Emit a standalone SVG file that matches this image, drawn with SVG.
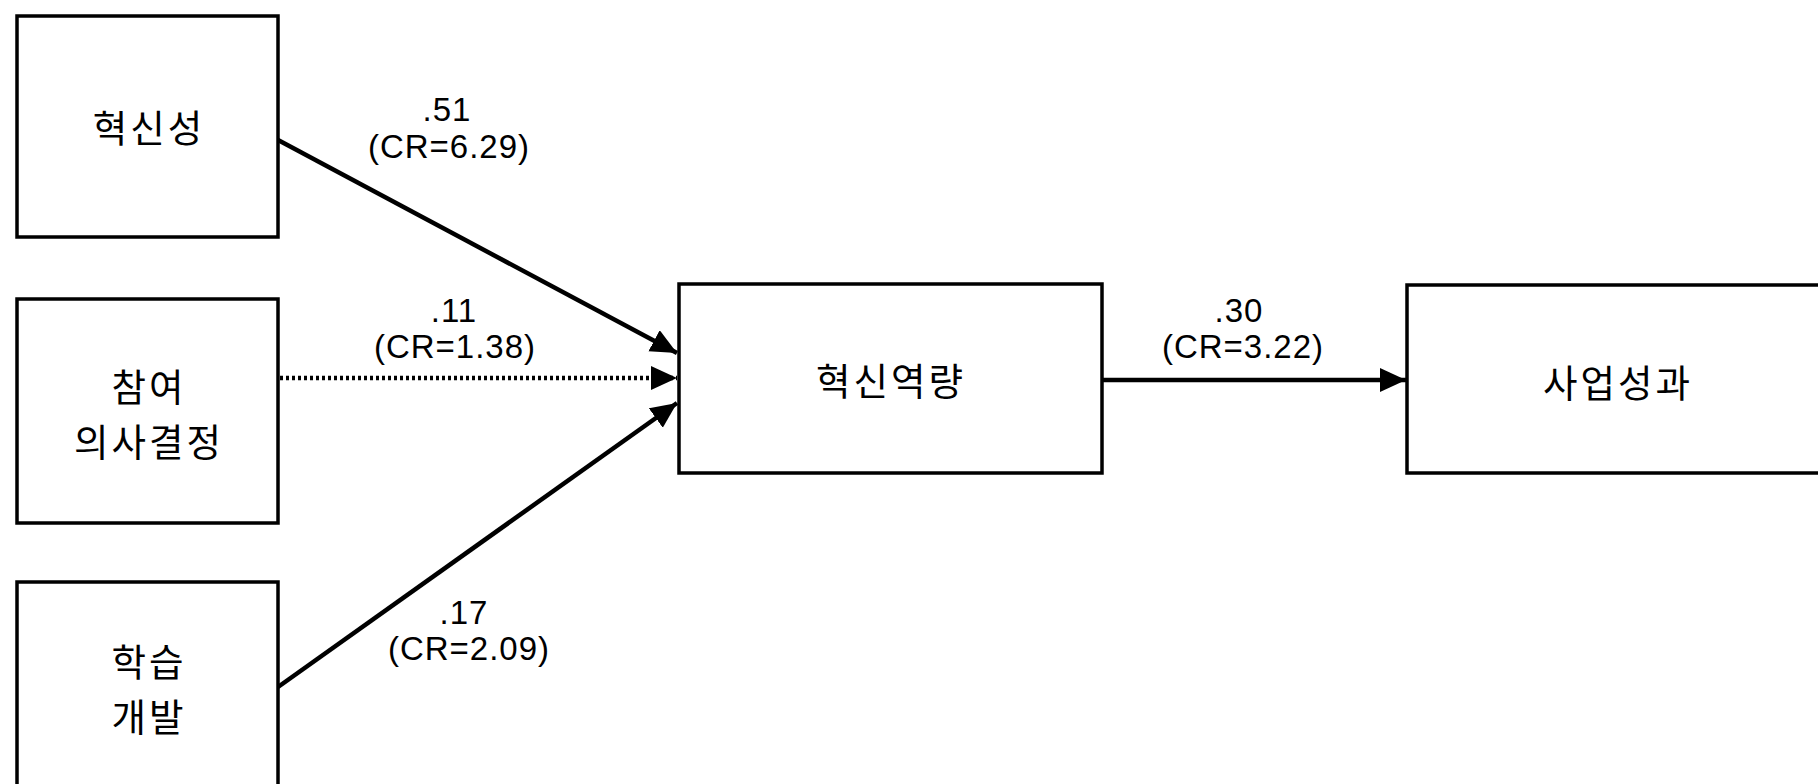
<svg xmlns="http://www.w3.org/2000/svg" width="1818" height="784" viewBox="0 0 1818 784">
<style>
.box{fill:#fff;stroke:#000;stroke-width:3.5}
.kr{font-family:"Noto Sans CJK KR","Noto Sans",sans-serif;font-size:37.5px;fill:#000;text-anchor:middle;letter-spacing:3px}
.lb{font-family:"Liberation Sans",Arial,sans-serif;font-size:33px;fill:#000;text-anchor:middle;letter-spacing:1px}
.edge{fill:none;stroke:#000;stroke-width:4.5}
.dot{stroke-dasharray:3 3}
</style>
<defs>
<marker id="ah" markerUnits="userSpaceOnUse" markerWidth="28" markerHeight="26" refX="26" refY="12" orient="auto">
<path d="M0,0 L26,12 L0,24 Z" fill="#000"/>
</marker>
</defs>
<rect width="1818" height="784" fill="#fff"/>
<g id="connectors">
<line class="edge" x1="278" y1="140" x2="677" y2="353" marker-end="url(#ah)"/>
<line class="edge dot" x1="280" y1="378" x2="677" y2="378" marker-end="url(#ah)"/>
<line class="edge" x1="278" y1="687" x2="677" y2="403" marker-end="url(#ah)"/>
<line class="edge" x1="1102" y1="380" x2="1406" y2="380" marker-end="url(#ah)"/>
<text class="lb" x="447" y="121">.51</text>
<text class="lb" x="449" y="158">(CR=6.29)</text>
<text class="lb" x="454" y="322">.11</text>
<text class="lb" x="455" y="358">(CR=1.38)</text>
<text class="lb" x="1239" y="322">.30</text>
<text class="lb" x="1243" y="358">(CR=3.22)</text>
<text class="lb" x="464" y="624">.17</text>
<text class="lb" x="469" y="660">(CR=2.09)</text>
</g>
<g id="n1">
<rect class="box" x="17" y="16" width="261" height="221"/>
<text class="kr" x="149" y="142">혁신성</text>
</g>
<g id="n2">
<rect class="box" x="17" y="299" width="261" height="224"/>
<text class="kr" x="149" y="401">참여<tspan x="149" dy="55">의사결정</tspan></text>
</g>
<g id="n3">
<rect class="box" x="17" y="582" width="261" height="230"/>
<text class="kr" x="149" y="676">학습<tspan x="149" dy="55">개발</tspan></text>
</g>
<g id="n4">
<rect class="box" x="679" y="284" width="423" height="189"/>
<text class="kr" x="891" y="395">혁신역량</text>
</g>
<g id="n5">
<rect class="box" x="1407" y="285" width="425" height="188"/>
<text class="kr" x="1618" y="397">사업성과</text>
</g>
</svg>
